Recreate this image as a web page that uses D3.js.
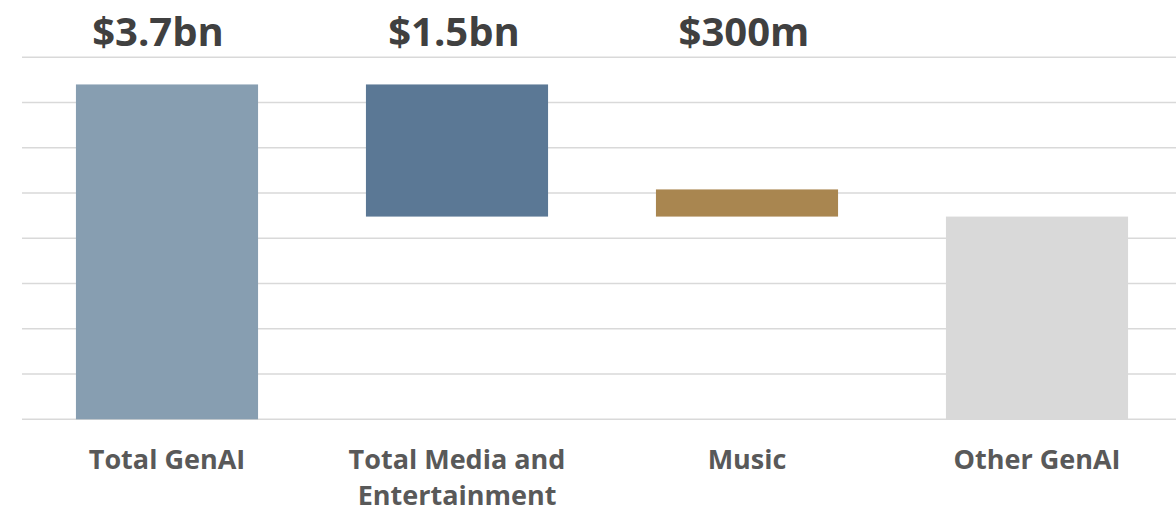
<!DOCTYPE html>
<html lang="en">
<head>
  <meta charset="UTF-8" />
  <title>GenAI waterfall</title>
  <script src="https://d3js.org/d3.v7.min.js"></script>
  <style>
    body { margin: 0; background: #fff; font-family: "Open Sans", sans-serif; }
    svg { display: block; }
    .grid line { stroke: #d9d9d9; stroke-width: 1.5px; }
    .value-label { font-weight: 700; font-size: 40px; fill: #404040; text-anchor: middle; }
    .cat-label { font-weight: 700; font-size: 27px; fill: #595959; text-anchor: middle; }
  </style>
</head>
<body>
  <svg id="chart" width="1176" height="513"></svg>
  <script>
    // values in $bn
    const categories = ['Total GenAI', 'Total Media and Entertainment', 'Music', 'Other GenAI'];
    const barBase = [0, 2.24, 2.24, 0];
    const barValue = [3.7, 1.46, 0.3, 2.24];
    const valueLabels = ['$3.7bn', '$1.5bn', '$300m', ''];
    const colors = ['#879eb1', '#5b7895', '#a98650', '#d9d9d9'];
    const gridTicks = [0, 0.5, 1, 1.5, 2, 2.5, 3, 3.5, 4];

    const width = 1176, height = 513;
    const svg = d3.select('#chart');

    const x = d3.scaleBand().domain(categories).range([22, 1182])
      .paddingInner(0.372).paddingOuter(0.186);
    const y = d3.scaleLinear().domain([0, 4]).range([419.3, 57.3]);

    svg.append('g').attr('class', 'grid')
      .selectAll('line').data(gridTicks).join('line')
      .attr('x1', 22).attr('x2', width)
      .attr('y1', d => y(d)).attr('y2', d => y(d));

    const bars = categories.map((c, i) => ({ c, base: barBase[i], v: barValue[i], color: colors[i], label: valueLabels[i] }));

    svg.append('g').selectAll('rect').data(bars).join('rect')
      .attr('x', d => x(d.c))
      .attr('width', x.bandwidth())
      .attr('y', d => y(d.base + d.v))
      .attr('height', d => y(d.base) - y(d.base + d.v))
      .attr('fill', d => d.color);

    // the value labels sit a little left of their bars in the original
    svg.append('g').selectAll('text').data(bars.filter(d => d.label)).join('text')
      .attr('class', 'value-label')
      .attr('x', (d, i) => x(d.c) + x.bandwidth() / 2 - (i === 0 ? 9 : 3))
      .attr('y', 46)
      .text(d => d.label);

    // category labels, wrapped to two lines where needed
    function wrapWords(text, maxChars) {
      const words = text.split(' ');
      const lines = [];
      let line = '';
      words.forEach(w => {
        const next = line ? line + ' ' + w : w;
        if (next.length > maxChars && line) { lines.push(line); line = w; }
        else line = next;
      });
      lines.push(line);
      return lines;
    }

    const cats = svg.append('g').selectAll('text').data(categories).join('text')
      .attr('class', 'cat-label')
      .attr('x', d => x(d) + x.bandwidth() / 2)
      .attr('y', 469);
    cats.each(function(d) {
      const lines = wrapWords(d, 16);
      d3.select(this).selectAll('tspan').data(lines).join('tspan')
        .attr('x', x(d) + x.bandwidth() / 2)
        .attr('dy', (l, i) => i === 0 ? 0 : 36)
        .text(l => l);
    });
  </script>
</body>
</html>
